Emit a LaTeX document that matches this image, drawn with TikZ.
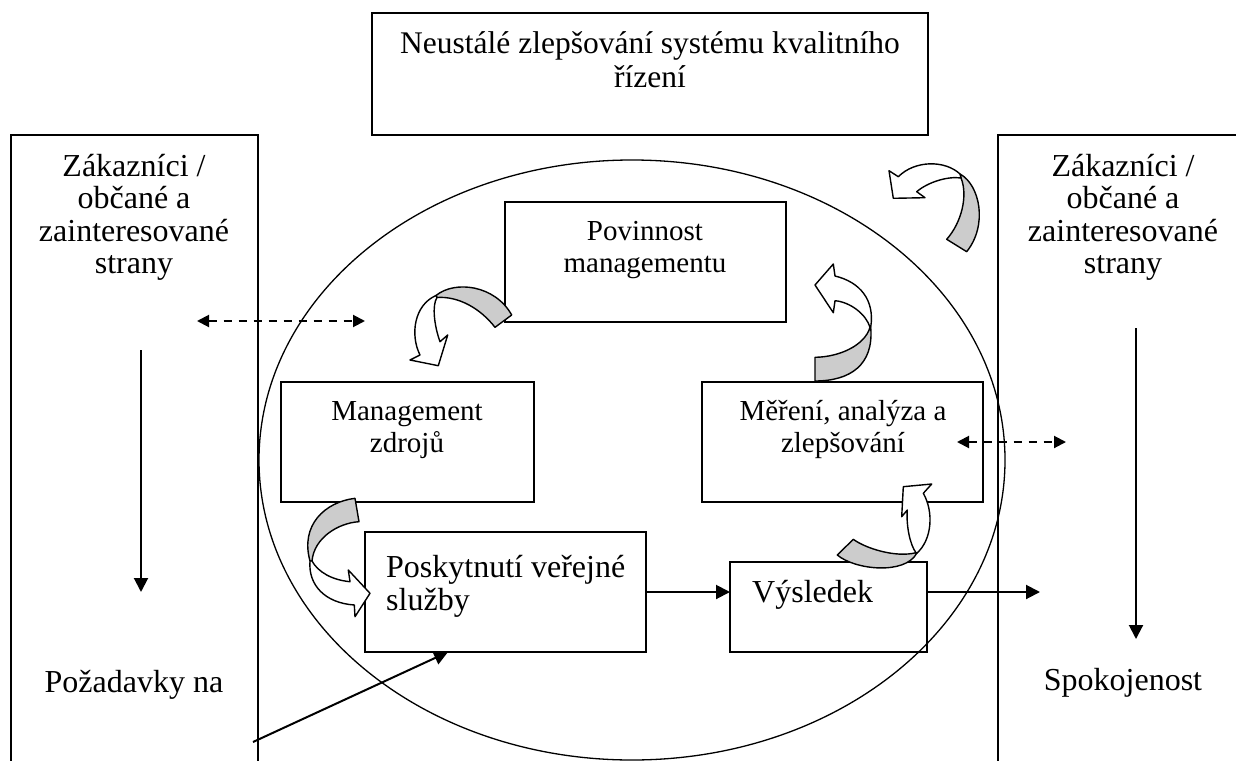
\documentclass[tikz,border=0pt]{standalone}
\usepackage{fontspec}
\setmainfont{Liberation Serif}
\usetikzlibrary{arrows.meta}

\begin{document}
\begin{tikzpicture}[x=1pt,y=-1pt,
  frame/.style={draw, line width=1.6pt, inner sep=0pt, outer sep=0pt},
  head/.style={font=\fontsize{31.5}{34}\selectfont, inner sep=0pt, anchor=base},
  big/.style={font=\fontsize{32}{34}\selectfont, inner sep=0pt, anchor=base},
  mid/.style={font=\fontsize{29}{31}\selectfont, inner sep=0pt, anchor=base},
  flow/.style={line width=2pt, -{Triangle[length=14pt,width=14pt]}},
  link/.style={line width=2pt, dash pattern=on 8pt off 7pt,
    {Triangle[length=12pt,width=12pt]}-{Triangle[length=12pt,width=12pt]}},
  back/.style={draw, line width=1.4pt, fill=gray!40, line join=round},
  front/.style={draw, line width=1.4pt, fill=white, line join=round}]

\useasboundingbox (0,0) rectangle (1236,760);
\clip (0,0) rectangle (1236,760);

% central cycle
\draw[line width=1.3pt] (632,460) ellipse [x radius=373, y radius=300];

% frames
\node[frame, minimum width=556pt, minimum height=122pt] (top) at (650,74) {};
\node[frame, anchor=north west, minimum width=247pt, minimum height=660pt] (lbox) at (11,135) {};
\node[frame, anchor=north west, minimum width=262pt, minimum height=660pt] (rbox) at (998,135) {};
\node[frame, minimum width=281pt, minimum height=120pt] (pov) at (645.5,262) {};
\node[frame, minimum width=253pt, minimum height=120pt] (mz) at (407.5,442) {};
\node[frame, minimum width=281pt, minimum height=120pt] (mer) at (842.5,442) {};
\node[frame, minimum width=281pt, minimum height=120pt] (posk) at (505.5,592) {};
\node[frame, minimum width=197pt, minimum height=90pt] (vys) at (828.5,607) {};

% texts
\node[head] (topa) at (650,53) {Neustálé zlepšování systému kvalitního};
\node[head] (topb) at (650,88) {řízení};

\node[big] (la1) at (134,176) {Zákazníci /};
\node[big] (la2) at (134,208) {občané a};
\node[big] (la3) at (134,241) {zainteresované};
\node[big] (la4) at (134,273) {strany};
\node[big] (lreq) at (134,692) {Požadavky na};

\node[big] (ra1) at (1123,176) {Zákazníci /};
\node[big] (ra2) at (1123,208) {občané a};
\node[big] (ra3) at (1123,241) {zainteresované};
\node[big] (ra4) at (1123,273) {strany};
\node[big] (rsat) at (1123,690) {Spokojenost};

\node[mid] (pova) at (645,240) {Povinnost};
\node[mid] (povb) at (645,272) {managementu};
\node[mid] (mza) at (407,420) {Management};
\node[mid] (mzb) at (407,452) {zdrojů};
\node[mid] (mera) at (843,420) {Měření, analýza a};
\node[mid] (merb) at (843,452) {zlepšování};
\node[big, anchor=base west] (poska) at (386,577) {Poskytnutí veřejné};
\node[big, anchor=base west] (poskb) at (386,610) {služby};
\node[big, anchor=base west] (vysa) at (752,602) {Výsledek};

% straight connectors
\coordinate (outR) at (1040,592);
\coordinate (inL) at (253,742);
\coordinate (lTop) at (141,350);
\coordinate (lBot) at (141,592);
\coordinate (rTop) at (1136,328);
\coordinate (rBot) at (1136,639);
\coordinate (dl1) at (197,321);
\coordinate (dl2) at (365,321);
\coordinate (dr1) at (957,442);
\coordinate (dr2) at (1066,442);

\draw[flow] (posk.east) -- (posk.east -| vys.west);
\draw[flow] (vys.east |- outR) -- (outR);
\draw[flow] (inL) -- ([xshift=83pt]posk.south west);
\draw[flow] (lTop) -- (lBot);
\draw[flow] (rTop) -- (rBot);
\draw[link] (dl1) -- (dl2);
\draw[link] (dr1) -- (dr2);

% curved block arrows (grey back side, white front side)
% upper right, outside the cycle
\path[back] (960,174) .. controls (980,185) and (988,225) .. (966.7,251.7)
  -- (946.7,239.3) .. controls (962,222) and (968,195) .. (961,178) -- cycle;
\path[front] (960,174) .. controls (945,160) and (915,160) .. (898.3,176.7)
  -- (889,170.7) -- (893.3,198.3) -- (925,197.7) -- (916.7,191.7)
  .. controls (928,182) and (948,176) .. (961,178) -- cycle;

% Povinnost managementu -> Management zdroju
\path[back] (436,295.5) .. controls (455,280) and (495,285) .. (511.7,315)
  -- (495,327.3) .. controls (480,308) and (458,296) .. (437,297.5) -- cycle;
\path[front] (436,295.5) .. controls (414,305) and (410,335) .. (420,355)
  -- (410,360) -- (438.3,365.7) -- (447.7,335) -- (440,341.7)
  .. controls (434,325) and (432,305) .. (437,297.5) -- cycle;

% Mereni -> Povinnost managementu
\path[back] (815,357.3) .. controls (840,357) and (865,345) .. (870,327.3)
  -- (870.7,327.3) .. controls (874,365) and (850,381) .. (815,381) -- cycle;
\path[front] (870.7,327.3) .. controls (875,300) and (860,282) .. (835,276)
  -- (833.3,264) -- (815,285) -- (833.3,312.7) -- (835,300.7)
  .. controls (850,302) and (866,314) .. (870,327.3) -- cycle;

% Management zdroju -> Poskytnuti
\path[back] (355,498.3) .. controls (325,502) and (300,525) .. (310,561)
  -- (312,561) .. controls (314,538) and (338,523) .. (359,521.7) -- cycle;
\path[front] (310,561) .. controls (308,585) and (325,603) .. (354.3,605)
  -- (355,616.7) -- (370,593.3) -- (348.3,570) -- (350,581.7)
  .. controls (332,580) and (318,572) .. (312,561) -- cycle;

% Vysledek -> Mereni
\path[back] (853.3,539.3) .. controls (865,548) and (895,558) .. (916,552.7)
  -- (916.7,553.3) .. controls (905,575) and (855,570) .. (837.3,555) -- cycle;
\path[front] (916.7,553.3) .. controls (932,540) and (934,512) .. (923.3,493.3)
  -- (931.7,484) -- (903.3,486.7) -- (901.7,516.7) -- (907.3,510)
  .. controls (906,525) and (910,545) .. (916,552.7) -- cycle;

\end{tikzpicture}
\end{document}
